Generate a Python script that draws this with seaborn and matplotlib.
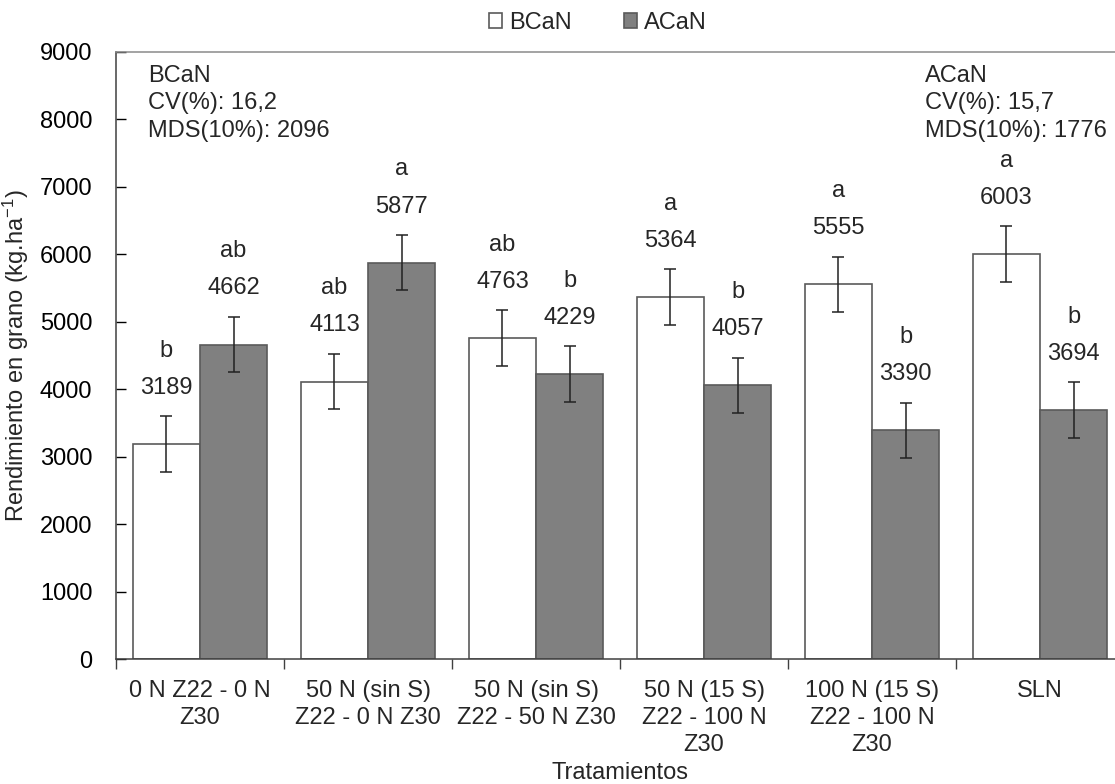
import matplotlib
matplotlib.use("Agg")
import matplotlib.pyplot as plt
import seaborn as sns
import pandas as pd
import numpy as np

# Treatments and grain yield (kg/ha) for the two nitrogen-availability environments
tratamientos = [
    "0 N Z22 - 0 N\nZ30",
    "50 N (sin S)\nZ22 - 0 N Z30",
    "50 N (sin S)\nZ22 - 50 N Z30",
    "50 N (15 S)\nZ22 - 100 N\nZ30",
    "100 N (15 S)\nZ22 - 100 N\nZ30",
    "SLN",
]
niveles = ["BCaN", "ACaN"]
rend_bcan = [3189, 4113, 4763, 5364, 5555, 6003]
rend_acan = [4662, 5877, 4229, 4057, 3390, 3694]
err_bcan = [412, 412, 412, 412, 412, 412]
err_acan = [412, 412, 412, 412, 412, 412]
letras_bcan = ["b", "ab", "ab", "a", "a", "a"]
letras_acan = ["ab", "a", "b", "b", "b", "b"]
y_ticks = [0, 1000, 2000, 3000, 4000, 5000, 6000, 7000, 8000, 9000]

df = pd.DataFrame({
    "Tratamiento": tratamientos * 2,
    "Nivel": [niveles[0]] * 6 + [niveles[1]] * 6,
    "Rendimiento": rend_bcan + rend_acan,
})

sns.set_style("ticks")
plt.rcParams["font.family"] = ["Liberation Sans", "DejaVu Sans"]
plt.rcParams["mathtext.fontset"] = "custom"
plt.rcParams["mathtext.rm"] = "Liberation Sans"
plt.rcParams["mathtext.it"] = "Liberation Sans"
FS = 17

fig = plt.figure(figsize=(11.15, 7.84), dpi=100)
ax = fig.add_axes([116 / 1115, (784 - 659) / 784, 1008 / 1115, 607 / 784])

sns.barplot(
    data=df, x="Tratamiento", y="Rendimiento", hue="Nivel",
    order=tratamientos, hue_order=niveles,
    palette={"BCaN": "white", "ACaN": "#808080"},
    edgecolor="#5a5a5a", linewidth=1.2, width=0.8, gap=0,
    errorbar=None, ax=ax,
)

ax.set_ylim(0, 9000)
ax.set_xlim(-0.5, len(tratamientos) - 0.5)

# error bars, value labels and significance letters on each bar
series = [(rend_bcan, err_bcan, letras_bcan), (rend_acan, err_acan, letras_acan)]
for cont, (vals, errs, letras) in zip(ax.containers, series):
    for bar, v, e, l in zip(cont, vals, errs, letras):
        xc = bar.get_x() + bar.get_width() / 2
        ax.errorbar(xc, v, yerr=e, fmt="none", ecolor="#222222",
                    elinewidth=1.1, capsize=4.5, capthick=1.1)
        ax.text(xc, v + e + 420, f"{v}", ha="center", va="center", fontsize=FS)
        ax.text(xc, v + e + 970, l, ha="center", va="center", fontsize=FS)

# statistics boxes
ax.text(0.032, 0.978, "BCaN\nCV(%): 16,2\nMDS(10%): 2096", transform=ax.transAxes,
        ha="left", va="top", fontsize=FS, linespacing=1.3)
ax.text(0.803, 0.978, "ACaN\nCV(%): 15,7\nMDS(10%): 1776", transform=ax.transAxes,
        ha="left", va="top", fontsize=FS, linespacing=1.3)

# axes styling
ax.set_yticks(y_ticks)
ax.set_yticklabels([str(t) for t in y_ticks], fontsize=FS)
ax.tick_params(axis="y", direction="in", length=7, width=1, pad=17, colors="black")
ax.set_xticks(range(len(tratamientos)))
ax.set_xticklabels(tratamientos, fontsize=FS, linespacing=1.3)
ax.tick_params(axis="x", which="major", length=0, pad=15)
ax.set_xticks(np.arange(-0.5, len(tratamientos), 1.0), minor=True)
ax.tick_params(axis="x", which="minor", direction="out", length=7, width=1, color="#404040")

for side in ["left", "bottom"]:
    ax.spines[side].set_color("#404040")
    ax.spines[side].set_linewidth(1.1)
ax.spines["top"].set_visible(True)
ax.spines["top"].set_color("#8a8a8a")
ax.spines["top"].set_linewidth(1.1)
ax.spines["right"].set_visible(False)

ax.set_xlabel("Tratamientos", fontsize=FS, labelpad=4)
ax.set_ylabel("Rendimiento en grano (kg.ha$^{-1}$)", fontsize=FS, labelpad=6)

sns.move_legend(
    ax, "center", bbox_to_anchor=(0.478, 1.048), ncol=2, frameon=False,
    title=None, fontsize=FS, handlelength=0.55, handleheight=0.55,
    handletextpad=0.3, columnspacing=2.2,
)

fig.savefig("out.png", dpi=100)
